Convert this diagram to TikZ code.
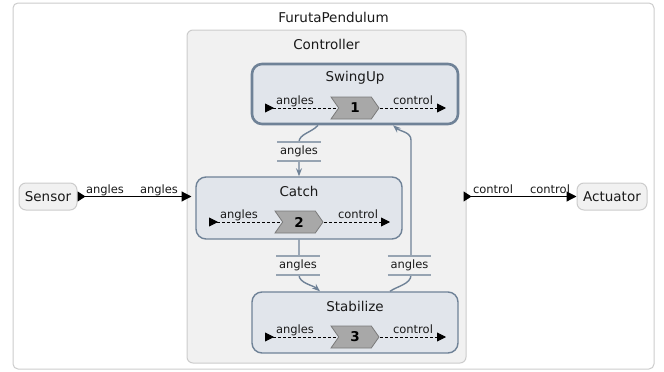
\documentclass[tikz,border=0pt]{standalone}
\usepackage{fontspec}
\setmainfont{DejaVu Sans}
\usetikzlibrary{arrows.meta,shapes.symbols}
\definecolor{stfill}{HTML}{E1E5EB}
\definecolor{stdraw}{HTML}{6F8297}
\definecolor{regfill}{HTML}{F1F1F1}
\definecolor{regdraw}{HTML}{CCCCCC}
\definecolor{chfill}{HTML}{A8A8A8}
\definecolor{chdraw}{HTML}{7A7A7A}
\definecolor{labline}{HTML}{97A4B2}
\definecolor{txt}{HTML}{1A1A1A}
\pgfdeclarelayer{bg}
\pgfdeclarelayer{edges}
\pgfdeclarelayer{states}
\pgfdeclarelayer{ports}
\pgfsetlayers{bg,edges,states,ports,main}
\tikzset{
  bigtext/.style={font=\fontsize{13.5}{16}\selectfont, text=txt, inner sep=0pt},
  smalltext/.style={font=\fontsize{11.5}{13}\selectfont, text=txt, inner sep=0pt},
  outerbox/.style={draw=regdraw, fill=white, rounded corners=5pt, line width=1pt, inner sep=0pt},
  regionbox/.style={draw=regdraw, fill=regfill, rounded corners=6pt, line width=1pt, inner sep=0pt},
  statebox/.style={draw=stdraw, fill=stfill, rounded corners=10pt, line width=1.4pt, inner sep=0pt, minimum width=206pt},
  initstate/.style={statebox, line width=2.6pt},
  extbox/.style={draw=regdraw, fill=regfill, rounded corners=7pt, line width=1pt, minimum height=27pt, inner sep=0pt, bigtext},
  chev/.style={signal, signal to=east, signal from=west, signal pointer angle=110, fill=chfill, draw=chdraw, line width=0.8pt, minimum width=48pt, minimum height=22pt, inner sep=0pt, font=\bfseries\fontsize{13.5}{16}\selectfont, text=black},
  portin/.style={densely dashed, line width=0.9pt, black, {Triangle[reversed,length=9pt,width=9pt]}-},
  portout/.style={densely dashed, line width=0.9pt, black, -{Triangle[length=9pt,width=9pt]}},
  trans/.style={draw=stdraw, line width=1.4pt, -{Stealth[length=8pt,width=6pt]}},
  elabel/.style={smalltext, fill=regfill, minimum width=43pt, minimum height=19pt},
  labrule/.style={draw=labline, line width=1.5pt},
  extedge/.style={line width=1.2pt, black, {Triangle[reversed,length=8pt,width=10pt]}-{Triangle[length=10pt,width=10pt]}}
}
\begin{document}
\begin{tikzpicture}[x=1pt,y=-1pt]
\useasboundingbox (0,0) rectangle (664,372);
\begin{pgfonlayer}{bg}
  \node[outerbox, minimum width=641pt, minimum height=366pt] (outer) at (333.5,186) {};
  \node[regionbox, minimum width=279pt, minimum height=333pt] (ctrl) at (326.5,196.5) {};
\end{pgfonlayer}
\node[bigtext] (ttl) at (333.5,17) {FurutaPendulum};
\node[bigtext] (ctrlttl) at (326.5,44) {Controller};

% states
\begin{pgfonlayer}{states}
  \node[initstate, minimum height=60pt] (swing) at (355,94) {};
  \node[statebox, minimum height=62pt] (catch) at (299,208) {};
  \node[statebox, minimum height=61pt] (stab) at (355,322.5) {};
\end{pgfonlayer}
\node[bigtext] (swingttl) at (355,78) {SwingUp};
\node[bigtext] (catchttl) at (299,191) {Catch};
\node[bigtext] (stabttl) at (355,306) {Stabilize};

% chevrons
\node[chev] (c1) at (355,108) {1};
\node[chev] (c2) at (299,222) {2};
\node[chev] (c3) at (355,337) {3};

% ports
\coordinate (p1i) at (265,108); \coordinate (p1o) at (446,108);
\coordinate (p2i) at (209,222); \coordinate (p2o) at (390,222);
\coordinate (p3i) at (265,337); \coordinate (p3o) at (446,337);
\begin{pgfonlayer}{ports}
  \draw[portin] (p1i) -- (c1.center);
  \draw[portout] (c1.center) -- (p1o);
  \draw[portin] (p2i) -- (c2.center);
  \draw[portout] (c2.center) -- (p2o);
  \draw[portin] (p3i) -- (c3.center);
  \draw[portout] (c3.center) -- (p3o);
\end{pgfonlayer}
\node[smalltext, anchor=base] (l1i) at (295,104) {angles};
\node[smalltext, anchor=base] (l1o) at (413,104) {control};
\node[smalltext, anchor=base] (l2i) at (239,218) {angles};
\node[smalltext, anchor=base] (l2o) at (358,218) {control};
\node[smalltext, anchor=base] (l3i) at (295,333) {angles};
\node[smalltext, anchor=base] (l3o) at (413,333) {control};

% transitions
\coordinate (t1a) at (299,142);
\coordinate (t2a) at (299,275);
\coordinate (t3a) at (411,275);
\coordinate (t3b) at (411,140);
\begin{pgfonlayer}{edges}
  \draw[trans] ([xshift=-37pt]swing.south) .. controls +(-6,7) and +(0,-8) .. (t1a) -- (catch.north);
  \draw[trans] (catch.south) -- (t2a) .. controls +(0,8) and +(-7,-6) .. ([xshift=-35pt]stab.north);
  \draw[trans] ([xshift=35pt]stab.north) .. controls +(7,-5) and +(0,9) .. (t3a) -- (t3b) .. controls +(0,-8) and +(7,6) .. ([xshift=38pt]swing.south);
\end{pgfonlayer}
\node[elabel] (e1) at (299,151.5) {angles};
\node[elabel] (e2) at (298,265.5) {angles};
\node[elabel] (e3) at (409.5,265.5) {angles};
\foreach \e in {e1,e2,e3}{
  \draw[labrule] (\e.north west) -- (\e.north east);
  \draw[labrule] (\e.south west) -- (\e.south east);
}

% external
\node[extbox, minimum width=58pt] (sensor) at (48,196.5) {Sensor};
\node[extbox, minimum width=70pt] (act) at (612,196.5) {Actuator};
\draw[extedge] (sensor.east) -- ([xshift=5pt]ctrl.west);
\draw[extedge] ([xshift=-3pt]ctrl.east) -- (act.west);
\node[smalltext, anchor=base] (sa1) at (105,193) {angles};
\node[smalltext, anchor=base] (sa2) at (159,193) {angles};
\node[smalltext, anchor=base] (ac1) at (493,193) {control};
\node[smalltext, anchor=base] (ac2) at (550,193) {control};
\end{tikzpicture}
\end{document}
